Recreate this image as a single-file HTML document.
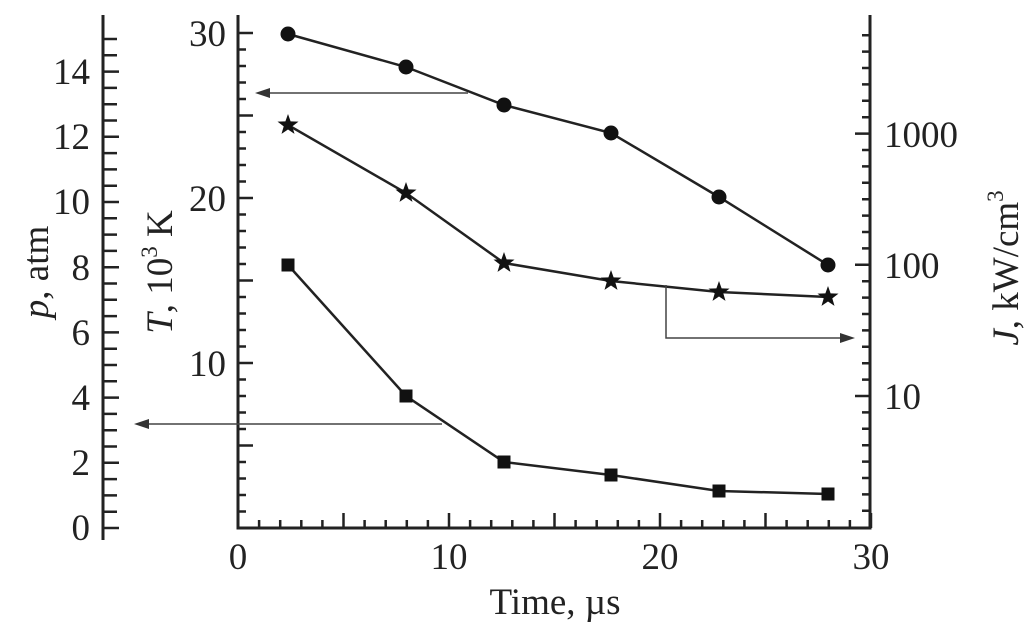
<!DOCTYPE html>
<html><head><meta charset="utf-8"><style>html,body{margin:0;padding:0;background:#fff}svg{display:block}text{font-family:"Liberation Serif",serif;fill:#222}</style></head>
<body>
<svg width="1024" height="633" viewBox="0 0 1024 633" xmlns="http://www.w3.org/2000/svg">
<g stroke="#222" fill="none">
<line x1="103" y1="15" x2="103" y2="540" stroke-width="3"/>
<path stroke-width="2.5" d="
M103 528h16 M103 511.7h14 M103 495.4h14 M103 479.1h14 M103 462.8h16 M103 446.5h14 M103 430.2h14 M103 413.9h14 M103 397.6h16 M103 381.3h14 M103 365h14 M103 348.7h14 M103 332.4h16 M103 316.1h14 M103 299.8h14 M103 283.5h14 M103 267.2h16 M103 250.9h14 M103 234.6h14 M103 218.3h14 M103 202h16 M103 185.7h14 M103 169.4h14 M103 153.1h14 M103 136.8h16 M103 120.5h14 M103 104.2h14 M103 87.9h14 M103 71.6h16 M103 55.3h14 M103 39h14"/>
<line x1="238" y1="15" x2="238" y2="529.5" stroke-width="3"/>
<line x1="236.5" y1="528" x2="871" y2="528" stroke-width="3"/>
<line x1="870" y1="15" x2="870" y2="529.5" stroke-width="3"/>
</g>
<g id="ticks"></g>
<g stroke="#222" stroke-width="2.5" fill="none">
<polyline points="288,34 406,67 504,105 611,133 719,197 828,265"/>
<polyline points="288,125 406,193 504,263 611,281 719,292 828,297"/>
<polyline points="288,265 406,396 504,462 611,475 719,491 828,494"/>
</g>
<g stroke="#444" stroke-width="1.5" fill="none">
<line x1="468" y1="93" x2="265" y2="93"/>
<line x1="442" y1="424" x2="145" y2="424"/>
<polyline points="666,285 666,338 843,338"/>
</g>
<g fill="#333">
<polygon points="255,93 270,88 270,98"/>
<polygon points="134,424 149,419 149,429"/>
<polygon points="855,338 840,333 840,343"/>
</g>
<g fill="#111">
<circle cx="288" cy="34" r="7.5"/><circle cx="406" cy="67" r="7.5"/><circle cx="504" cy="105" r="7.5"/><circle cx="611" cy="133" r="7.5"/><circle cx="719" cy="197" r="7.5"/><circle cx="828" cy="265" r="7.5"/>
<rect x="281.5" y="258.5" width="13" height="13"/><rect x="399.5" y="389.5" width="13" height="13"/><rect x="497.5" y="455.5" width="13" height="13"/><rect x="604.5" y="468.5" width="13" height="13"/><rect x="712.5" y="484.5" width="13" height="13"/><rect x="821.5" y="487.5" width="13" height="13"/>
</g>
<g fill="#111" id="stars"></g>
<g font-size="37" text-anchor="end">
<text x="90" y="540">0</text><text x="90" y="475">2</text><text x="90" y="410">4</text><text x="90" y="345">6</text><text x="90" y="280">8</text><text x="90" y="214">10</text><text x="90" y="149">12</text><text x="90" y="84">14</text>
<text x="226" y="46">30</text><text x="226" y="211">20</text><text x="226" y="376">10</text>
</g>
<g font-size="37" text-anchor="start">
<text x="884" y="147">1000</text><text x="884" y="278">100</text><text x="884" y="409">10</text>
</g>
<g font-size="37" text-anchor="middle">
<text x="238" y="569">0</text><text x="449" y="569">10</text><text x="660" y="569">20</text><text x="871" y="569">30</text>
<text x="555" y="614">Time, µs</text>
</g>
<g font-size="37" text-anchor="middle">
<text transform="translate(48,272) rotate(-90)"><tspan font-style="italic">p</tspan>, atm</text>
<text transform="translate(172,272) rotate(-90)"><tspan font-style="italic">T</tspan>, 10<tspan font-size="23" dy="-15">3</tspan><tspan dy="15"> K</tspan></text>
<text transform="translate(1018,268) rotate(-90)"><tspan font-style="italic">J</tspan>, kW/cm<tspan font-size="23" dy="-15">3</tspan></text>
</g>
<script>
var g=document.getElementById('ticks'),s='';
for(var i=0;i<=31;i++){var y=528-16.5*i;if(y<18)break;var L=(i%5==0)?15:8;s+='M238 '+y+'h'+L+' ';}
for(var i=1;i<=30;i++){var x=238+21.1*i;var L=(i%5==0)?15:8;s+='M'+x+' 528v-'+L+' ';}
for(var k=-6;k<=28;k++){var y=68+16.4*k;if(y>526||y<20)continue;var L=((k-4)%8==0)?15:8;s+='M870 '+y+'h-'+L+' ';}
var p=document.createElementNS('http://www.w3.org/2000/svg','path');p.setAttribute('d',s);p.setAttribute('stroke','#222');p.setAttribute('stroke-width','2.5');p.setAttribute('fill','none');g.appendChild(p);
var st=document.getElementById('stars'),pts=[[288,125],[406,193],[504,263],[611,281],[719,292],[828,297]];
pts.forEach(function(c){var d='';for(var j=0;j<10;j++){var r=j%2?4.5:11,a=-Math.PI/2+j*Math.PI/5;d+=(j?'L':'M')+(c[0]+r*Math.cos(a)).toFixed(1)+' '+(c[1]+r*Math.sin(a)).toFixed(1);}
var e=document.createElementNS('http://www.w3.org/2000/svg','path');e.setAttribute('d',d+'Z');st.appendChild(e);});
</script>
</svg>
</body></html>
